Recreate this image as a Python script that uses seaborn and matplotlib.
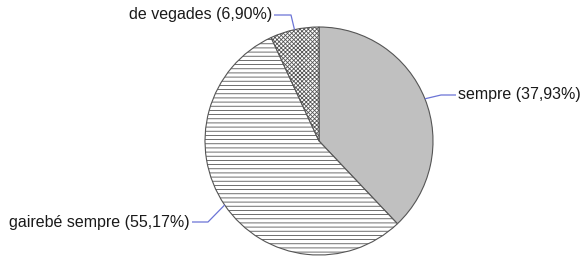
import numpy as np
import matplotlib
matplotlib.use("Agg")
import matplotlib.pyplot as plt
import seaborn as sns

# data
categories = ["sempre", "gairebé sempre", "de vegades"]
shares = [37.93, 55.17, 6.90]
face_colors = ["#c0c0c0", "white", "white"]
hatches = [None, "----", "xxxxxxxx"]

sns.set_theme(style="white")
plt.rcParams["font.family"] = ["Liberation Sans", "DejaVu Sans"]
plt.rcParams["hatch.linewidth"] = 0.6
plt.rcParams["hatch.color"] = "#444444"

fig = plt.figure(figsize=(5.83, 2.59), dpi=100)
ax = fig.add_axes([0, 0, 1, 1])

cx, cy, r = 319, 118, 114
wedges, _ = ax.pie(
    shares,
    colors=face_colors,
    startangle=90,
    counterclock=False,
    center=(cx, cy),
    radius=r,
    frame=True,
    wedgeprops=dict(edgecolor="#555555", linewidth=0.8),
)
ax.set_xlim(0, 583)
ax.set_ylim(0, 259)
ax.set_aspect("equal")
ax.axis("off")
for w, h in zip(wedges, hatches):
    if h:
        w.set_hatch(h)

# leader lines + labels: (elbow, text anchor, ha)
label_pos = {
    "sempre": ((441, 164), (458, 164), "left"),
    "gairebé sempre": ((208, 37), (190, 37), "right"),
    "de vegades": ((291, 244), (272, 244), "right"),
}
line_col = "#6b74d6"
for w, cat, val in zip(wedges, categories, shares):
    mid = np.deg2rad((w.theta1 + w.theta2) / 2)
    ex, ey = cx + r * np.cos(mid), cy + r * np.sin(mid)
    (bx, by), (tx, ty), ha = label_pos[cat]
    ax.plot([ex, bx, tx + (2 if ha == "right" else -2)], [ey, by, ty],
            color=line_col, lw=0.9, solid_capstyle="butt")
    label = f"{cat} ({val:.2f}%)".replace(".", ",")
    ax.text(tx, ty, label, ha=ha, va="center", fontsize=11.5, color="#1a1a1a")

fig.savefig("out.png", dpi=100)
